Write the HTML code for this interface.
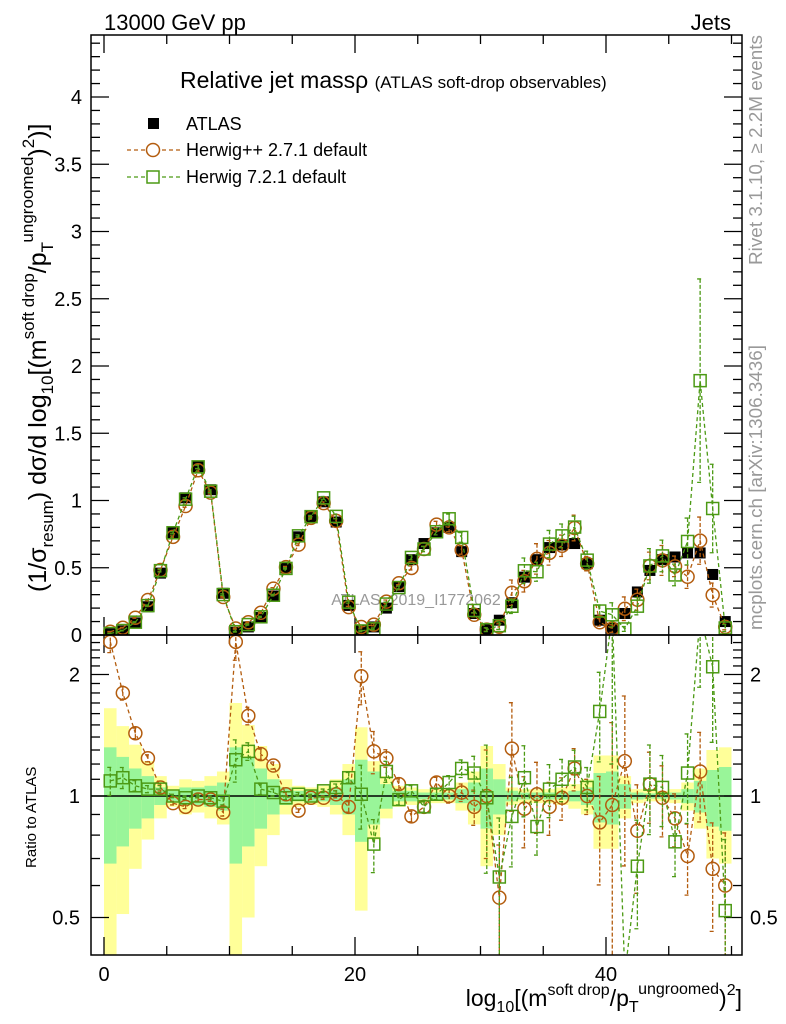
<!DOCTYPE html>
<html><head><meta charset="utf-8"><style>
html,body{margin:0;padding:0;background:#fff;width:786px;height:1024px;overflow:hidden;}
svg{display:block;font-family:"Liberation Sans",Arial,sans-serif;}
</style></head><body>
<svg id="chart" width="786" height="1024" viewBox="0 0 786 1024" xmlns="http://www.w3.org/2000/svg">
<defs>
<clipPath id="clipMain"><rect x="91" y="35" width="651" height="600"/></clipPath>
<clipPath id="clipRatio"><rect x="91" y="635" width="651" height="320"/></clipPath>
</defs>
<rect x="0" y="0" width="786" height="1024" fill="#fff"/>
<text x="104" y="30" font-size="22">13000 GeV pp</text>
<text x="731" y="30" font-size="22" text-anchor="end">Jets</text>
<g id="bands" clip-path="url(#clipRatio)"></g>
<g id="gridticks"></g>
<text x="180" y="88" font-size="23">Relative jet massρ <tspan font-size="17">(ATLAS soft-drop observables)</tspan></text>
<text x="416" y="605" font-size="16" fill="#999" text-anchor="middle">ATLAS_2019_I1772062</text>
<g id="marksMain" clip-path="url(#clipMain)"></g>
<g id="marksRatio" clip-path="url(#clipRatio)"></g>
<rect x="91" y="35" width="651" height="600" fill="none" stroke="#000" stroke-width="1.5"/>
<rect x="91" y="635" width="651" height="320" fill="none" stroke="#000" stroke-width="1.5"/>
<g>
<rect x="148" y="118" width="11" height="11" fill="#000"/>
<text x="186" y="130" font-size="18">ATLAS</text>
<line x1="127" y1="150" x2="180" y2="150" stroke="#b35c0e" stroke-width="1.3" stroke-dasharray="4,3"/>
<circle cx="153" cy="150" r="6.5" fill="#fff" stroke="#b35c0e" stroke-width="1.5"/>
<text x="186" y="156" font-size="18">Herwig++ 2.7.1 default</text>
<line x1="127" y1="177" x2="180" y2="177" stroke="#4c9a14" stroke-width="1.3" stroke-dasharray="4,3"/>
<rect x="147" y="171" width="12" height="12" fill="#fff" stroke="#4c9a14" stroke-width="1.5"/>
<text x="186" y="183" font-size="18">Herwig 7.2.1 default</text>
</g>
<text transform="translate(762,265) rotate(-90)" font-size="18" fill="#999" textLength="230" lengthAdjust="spacingAndGlyphs">Rivet 3.1.10, ≥ 2.2M events</text>
<text transform="translate(762,630) rotate(-90)" font-size="18" fill="#999" textLength="285" lengthAdjust="spacingAndGlyphs">mcplots.cern.ch [arXiv:1306.3436]</text>
<text transform="translate(46,592) rotate(-90)" font-size="25">(1/σ<tspan font-size="17" dy="7">resum</tspan><tspan dy="-7">) dσ/d log</tspan><tspan font-size="17" dy="7">10</tspan><tspan dy="-7">[(m</tspan><tspan font-size="17" dy="-12">soft drop</tspan><tspan dy="12">/p</tspan><tspan font-size="17" dy="7">T</tspan><tspan font-size="17" dy="-20">ungroomed</tspan><tspan dy="13">)</tspan><tspan font-size="17" dy="-12">2</tspan><tspan dy="12">)]</tspan></text>
<text transform="translate(36,868) rotate(-90)" font-size="15">Ratio to ATLAS</text>
<text x="742" y="1006" font-size="23" text-anchor="end">log<tspan font-size="16" dy="6">10</tspan><tspan dy="-6">[(m</tspan><tspan font-size="16" dy="-11">soft drop</tspan><tspan dy="11">/p</tspan><tspan font-size="16" dy="6">T</tspan><tspan font-size="16" dy="-18">ungroomed</tspan><tspan dy="12">)</tspan><tspan font-size="16" dy="-11">2</tspan><tspan dy="11">]</tspan></text>
</svg>
<script>
const categories = [0,1,2,3,4,5,6,7,8,9,10,11,12,13,14,15,16,17,18,19,20,21,22,23,24,25,26,27,28,29,30,31,32,33,34,35,36,37,38,39,40,41,42,43,44,45,46,47,48,49];
const atlas = [0.01,0.03,0.09,0.21,0.46,0.76,1.02,1.25,1.08,0.31,0.02,0.06,0.13,0.29,0.50,0.73,0.88,0.99,0.84,0.22,0.03,0.06,0.20,0.36,0.56,0.68,0.76,0.80,0.62,0.16,0.04,0.11,0.24,0.43,0.56,0.65,0.67,0.68,0.53,0.11,0.05,0.16,0.32,0.48,0.56,0.58,0.61,0.61,0.45,0.10];
const ratioHpp = [2.41,1.80,1.43,1.24,1.05,0.96,0.94,0.98,0.98,0.91,2.41,1.58,1.27,1.19,1.01,0.92,0.99,0.99,1.01,0.94,1.98,1.29,1.24,1.07,0.89,0.94,1.08,1.00,1.02,0.94,1.00,0.56,1.31,0.93,1.01,0.94,0.99,1.17,1.00,0.86,0.95,1.22,0.82,1.07,0.99,0.88,0.71,1.15,0.66,0.60];
const ratioH7 = [1.09,1.11,1.06,1.04,1.04,1.00,0.99,1.00,0.99,0.97,1.23,1.29,1.04,1.02,0.99,1.01,1.00,1.03,1.05,1.11,1.01,0.76,1.15,0.98,1.03,0.94,1.01,1.08,1.17,1.14,0.99,0.63,0.89,1.11,0.84,1.04,1.10,1.18,1.05,1.62,3.00,0.28,0.67,1.07,1.05,0.77,1.14,3.10,2.09,0.52];
const errHpp = [0.06,0.04,0.03,0.02,0.02,0.01,0.01,0.01,0.01,0.02,0.10,0.05,0.03,0.02,0.01,0.01,0.01,0.01,0.02,0.03,0.15,0.12,0.05,0.03,0.03,0.03,0.03,0.04,0.05,0.10,0.30,0.35,0.30,0.20,0.20,0.15,0.12,0.12,0.10,0.30,0.60,0.45,0.30,0.20,0.20,0.15,0.20,0.25,0.30,0.35];
const errH7 = [0.08,0.06,0.03,0.02,0.02,0.01,0.01,0.01,0.01,0.02,0.12,0.05,0.03,0.02,0.01,0.01,0.01,0.01,0.02,0.03,0.18,0.15,0.06,0.03,0.03,0.03,0.03,0.04,0.05,0.10,0.35,0.40,0.25,0.20,0.15,0.15,0.12,0.10,0.12,0.25,0.60,0.40,0.30,0.25,0.20,0.18,0.25,0.40,0.35,0.50];
const bandYellow = [0.65,0.49,0.34,0.22,0.12,0.06,0.10,0.09,0.12,0.15,0.70,0.50,0.33,0.20,0.10,0.06,0.05,0.06,0.10,0.20,0.48,0.22,0.12,0.06,0.05,0.04,0.04,0.04,0.08,0.15,0.33,0.20,0.05,0.04,0.04,0.04,0.05,0.07,0.10,0.26,0.26,0.12,0.04,0.03,0.03,0.04,0.08,0.17,0.30,0.32];
const bandGreen = [0.32,0.25,0.17,0.12,0.05,0.03,0.05,0.05,0.06,0.08,0.32,0.25,0.17,0.10,0.05,0.03,0.03,0.03,0.05,0.10,0.23,0.15,0.07,0.03,0.03,0.02,0.02,0.02,0.04,0.08,0.17,0.10,0.03,0.02,0.02,0.02,0.02,0.03,0.05,0.14,0.15,0.07,0.02,0.015,0.015,0.02,0.04,0.09,0.16,0.18];
const xTicksMajor = [0,20,40];
const yTicksMain = [0,0.5,1,1.5,2,2.5,3,3.5,4];
const yTickLabelsMain = ["0","0.5","1","1.5","2","2.5","3","3.5","4"];
const rTicksMajor = [0.5,1,2];
const rTickLabels = ["0.5","1","2"];

const NS = "http://www.w3.org/2000/svg";
const clamp = (v, a, b) => Math.min(Math.max(v, a), b);
const X = v => 104 + 12.55 * v;
const YM = v => 635 - 134.5 * v;
const YR = r => 796 - 121.5 * Math.log2(Math.max(r, 0.01));
const ORANGE = "#b35c0e", GREEN = "#4c9a14";
function mk(tag, attrs, parent) {
  const el = document.createElementNS(NS, tag);
  for (const k in attrs) el.setAttribute(k, attrs[k]);
  parent.appendChild(el);
  return el;
}
const gT = document.getElementById("gridticks");
const gB = document.getElementById("bands");
const gM = document.getElementById("marksMain");
const gR = document.getElementById("marksRatio");

categories.forEach((c, i) => {
  const x0 = X(c), x1 = X(c + 1);
  let yt = clamp(YR(1 + bandYellow[i]), 630, 960), yb = clamp(YR(Math.max(1 - bandYellow[i], 0.05)), 630, 960);
  let el = mk("rect", {x: x0, y: yt, width: x1 - x0, height: yb - yt, fill: "#ffff99"}, gB);
  
  
  yt = clamp(YR(1 + bandGreen[i]), 630, 960); yb = clamp(YR(Math.max(1 - bandGreen[i], 0.05)), 630, 960);
  el = mk("rect", {x: x0, y: yt, width: x1 - x0, height: yb - yt, fill: "#99f599"}, gB);
  
  
});

for (let v = 0; v <= 50; v += 5) {
  const big = xTicksMajor.includes(v);
  const L = big ? 18 : 9, x = X(v);
  [[635, -1], [35, 1], [955, -1], [635, 1]].forEach(([y0, d]) => {
    mk("line", {x1: x, x2: x, y1: y0, y2: y0 + d * L, stroke: "#000", "stroke-width": 1.3}, gT);
  });
}
xTicksMajor.forEach(v => {
  const t = mk("text", {x: X(v), y: 981, "font-size": 20, "text-anchor": "middle"}, gT);
  t.textContent = String(v);
  
  
});
for (let k = 0; k <= 44; k++) {
  const v = k / 10, y = YM(v), big = k % 5 === 0, L = big ? 18 : 9;
  mk("line", {x1: 91, x2: 91 + L, y1: y, y2: y, stroke: "#000", "stroke-width": 1.3}, gT);
  mk("line", {x1: 742, x2: 742 - L, y1: y, y2: y, stroke: "#000", "stroke-width": 1.3}, gT);
}
yTicksMain.forEach((v, i) => {
  const t = mk("text", {x: 82, y: YM(v) + 7, "font-size": 20, "text-anchor": "end"}, gT);
  t.textContent = yTickLabelsMain[i];
  
  
});
[0.4,0.5,0.6,0.7,0.8,0.9,1,1.1,1.2,1.3,1.4,1.5,1.6,1.7,1.8,1.9,2,2.1,2.2,2.3,2.4].forEach(v => {
  const y = YR(v), big = rTicksMajor.includes(v), L = big ? 18 : 9;
  if (y < 636 || y > 954) return;
  mk("line", {x1: 91, x2: 91 + L, y1: y, y2: y, stroke: "#000", "stroke-width": 1.3}, gT);
  mk("line", {x1: 742, x2: 742 - L, y1: y, y2: y, stroke: "#000", "stroke-width": 1.3}, gT);
});
rTicksMajor.forEach((v, i) => {
  let t = mk("text", {x: 80, y: YR(v) + 7, "font-size": 20, "text-anchor": "end"}, gT);
  t.textContent = rTickLabels[i];
  
  
  t = mk("text", {x: 750, y: YR(v) + 7, "font-size": 20}, gT);
  t.textContent = rTickLabels[i];
  
  
});
let ref = mk("line", {x1: 91, x2: 742, y1: YR(1), y2: YR(1), stroke: "#000", "stroke-width": 1.5}, gR);



function series(ratios, errs, color, kind, g, Yf, useMain, ymin, ymax) {
  const pts = categories.map((c, i) => {
    const v = useMain ? atlas[i] * ratios[i] : ratios[i];
    return [X(c + 0.5), clamp(Yf(v), ymin - 20, ymax + 20), v];
  });
  const line = mk("polyline", {points: pts.map(p => p[0] + "," + p[1]).join(" "), fill: "none", stroke: color, "stroke-width": 1.3, "stroke-dasharray": "4,3"}, g);
  
  
  pts.forEach((p, i) => {
    const e = p[2] * errs[i];
    const yt = clamp(Yf(p[2] + e), ymin - 10, ymax + 10), yb = clamp(Yf(Math.max(p[2] - e, 0.001)), ymin - 10, ymax + 10);
    const eb = mk("path", {d: `M${p[0]},${yt}V${yb}M${p[0]-3},${yt}H${p[0]+3}M${p[0]-3},${yb}H${p[0]+3}`, stroke: color, "stroke-width": 1.3, "stroke-dasharray": "4,2", fill: "none"}, g);
    
    
    let m;
    if (kind === "herwigpp") m = mk("circle", {cx: p[0], cy: p[1], r: 6.5, fill: "none", stroke: color, "stroke-width": 1.5}, g);
    else m = mk("rect", {x: p[0] - 6, y: p[1] - 6, width: 12, height: 12, fill: "none", stroke: color, "stroke-width": 1.5}, g);
    
    
  });
}
categories.forEach((c, i) => {
  const el = mk("rect", {x: X(c + 0.5) - 5.5, y: YM(atlas[i]) - 5.5, width: 11, height: 11, fill: "#000"}, gM);
  
  
});
series(ratioHpp, errHpp, ORANGE, "herwigpp", gM, YM, true, 35, 635);
series(ratioH7, errH7, GREEN, "herwig7", gM, YM, true, 35, 635);
series(ratioHpp, errHpp, ORANGE, "herwigpp", gR, YR, false, 635, 955);
series(ratioH7, errH7, GREEN, "herwig7", gR, YR, false, 635, 955);
</script>
</body></html>
